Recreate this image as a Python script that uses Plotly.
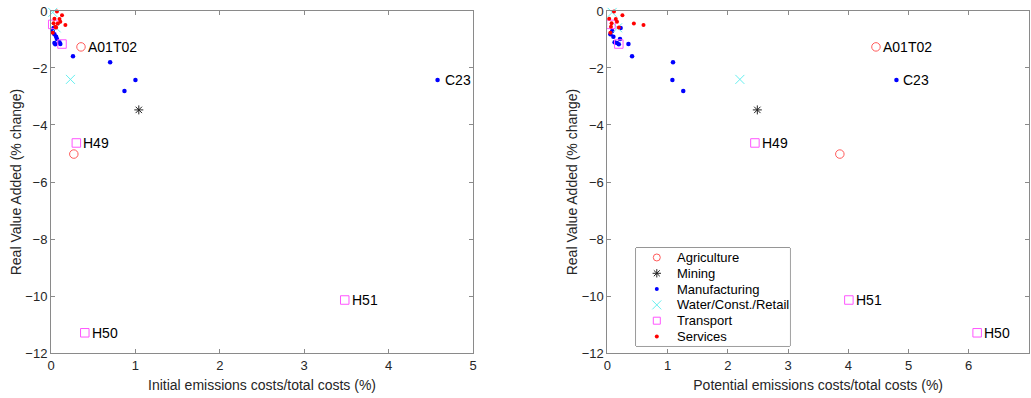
import plotly.graph_objects as go

# ---------------- data (left: initial, right: potential) ----------------
agri_x_init = [0.355, 0.27]
agri_x_pot = [4.46, 3.86]
agri_y = [-1.26, -5.02]

mining_x_init = [1.04]
mining_x_pot = [2.49]
mining_y = [-3.47]

manu_x_init = [4.58, 0.26, 0.70, 1.00, 0.87, 0.11, 0.07, 0.05, 0.04, 0.03, 0.02, 0.04, 0.06, 0.10]
manu_x_pot = [4.80, 0.41, 1.09, 1.08, 1.26, 0.35, 0.21, 0.19, 0.16, 0.22, 0.08, 0.05, 0.10, 0.12]
manu_y = [-2.42, -1.59, -1.80, -2.42, -2.81, -1.16, -0.98, -1.17, -1.12, -0.60, -0.70, -0.82, -0.90, -1.10]

water_x_init = [0.02, 0.06, 0.23]
water_x_pot = [0.08, 0.17, 2.20]
water_y = [-0.05, -0.59, -2.40]

trans_x_init = [3.48, 0.40, 0.30, 0.13, 0.02]
trans_x_pot = [4.01, 6.14, 2.45, 0.19, 0.06]
trans_y = [-10.14, -11.29, -4.63, -1.16, -0.47]

serv_x_init = [0.07, 0.13, 0.10, 0.04, 0.11, 0.17, 0.03, 0.05, 0.02, 0.08, 0.06]
serv_x_pot = [0.11, 0.25, 0.14, 0.03, 0.16, 0.60, 0.07, 0.06, 0.05, 0.44, 0.19]
serv_y = [-0.02, -0.15, -0.28, -0.27, -0.38, -0.49, -0.43, -0.55, -0.76, -0.44, -0.58]

labels_txt = ["A01T02", "C23", "H49", "H50", "H51"]
labels_x_init = [0.355, 4.58, 0.30, 0.40, 3.48]
labels_x_pot = [4.46, 4.80, 2.45, 6.14, 4.01]
labels_y = [-1.26, -2.42, -4.63, -11.29, -10.14]

x_ticks_left = [0, 1, 2, 3, 4, 5]
x_ticks_right = [0, 1, 2, 3, 4, 5, 6, 7]
y_ticks = [0, -2, -4, -6, -8, -10, -12]

FONT = "Liberation Sans, Arial, Helvetica, sans-serif"
AXCOL = "#8a8a8a"
TXTCOL = "#262626"

series = [
    ("Agriculture", agri_x_init, agri_x_pot, agri_y,
     dict(symbol="circle-open", size=8.5, color="#ff5a5a", line=dict(width=1))),
    ("Mining", mining_x_init, mining_x_pot, mining_y,
     dict(symbol="asterisk-open", size=7.5, color="#222222", line=dict(width=1))),
    ("Manufacturing", manu_x_init, manu_x_pot, manu_y,
     dict(symbol="circle", size=4.5, color="#0000ff", line=dict(width=0))),
    ("Water/Const./Retail", water_x_init, water_x_pot, water_y,
     dict(symbol="x-thin-open", size=9, color="#66f0f0", line=dict(width=1))),
    ("Transport", trans_x_init, trans_x_pot, trans_y,
     dict(symbol="square-open", size=8.5, color="#ff55ff", line=dict(width=1))),
    ("Services", serv_x_init, serv_x_pot, serv_y,
     dict(symbol="circle", size=4, color="#ff0000", line=dict(width=0))),
]
legend_sizes = [7, 7, 4, 9, 7, 4]

fig = go.Figure()
for name, xi, xp, y, mk in series:
    fig.add_trace(go.Scatter(x=xi, y=y, mode="markers", marker=mk, name=name,
                             showlegend=False, xaxis="x", yaxis="y", cliponaxis=False))
    fig.add_trace(go.Scatter(x=xp, y=y, mode="markers", marker=mk, name=name,
                             showlegend=False, xaxis="x2", yaxis="y2", cliponaxis=False))

annotations = []
for t, xi, xp, y in zip(labels_txt, labels_x_init, labels_x_pot, labels_y):
    for xr, yr, xv in (("x", "y", xi), ("x2", "y2", xp)):
        annotations.append(dict(x=xv, y=y, xref=xr, yref=yr, text=t, showarrow=False,
                                xanchor="left", yanchor="middle", xshift=5,
                                font=dict(family=FONT, size=14, color="#000000")))

# ---- compact legend box (MATLAB style) drawn on its own hidden axes ----
n_items = len(series)
for i, ((name, _, _, _, mk), ls) in enumerate(zip(series, legend_sizes)):
    lmk = dict(mk)
    lmk["size"] = ls
    fig.add_trace(go.Scatter(x=[0.135], y=[i + 0.5], mode="markers", marker=lmk,
                             name=name, showlegend=False, hoverinfo="skip",
                             xaxis="x3", yaxis="y3"))
    annotations.append(dict(x=0.25, y=i + 0.5, xref="x3", yref="y3", text=name,
                            showarrow=False, xanchor="left", yanchor="middle",
                            font=dict(family=FONT, size=13, color="#000000")))

shapes = [dict(type="rect", xref="x3 domain", yref="y3 domain", x0=0, x1=1, y0=0, y1=1,
               line=dict(color="#333333", width=1), fillcolor="white", layer="below")]

axis_common = dict(showline=True, linecolor=AXCOL, linewidth=1, mirror="ticks",
                   ticks="inside", ticklen=4, tickcolor=AXCOL, showgrid=False,
                   zeroline=False, automargin=False,
                   tickfont=dict(family=FONT, size=13, color=TXTCOL))

hidden = dict(visible=False, showgrid=False, zeroline=False, fixedrange=True, automargin=False)

fig.update_layout(
    width=1031, height=398, autosize=False,
    margin=dict(l=0, r=0, t=0, b=0, pad=0, autoexpand=False),
    paper_bgcolor="white", plot_bgcolor="white",
    font=dict(family=FONT, color=TXTCOL),
    showlegend=False,
    xaxis=dict(domain=[0.0495, 0.4588], range=[0, 5], tickvals=x_ticks_left,
               title=dict(text="Initial emissions costs/total costs (%)",
                          font=dict(family=FONT, size=14, color=TXTCOL), standoff=8),
               anchor="y", **axis_common),
    yaxis=dict(domain=[0.113, 0.9724], range=[-12, 0], tickvals=y_ticks,
               title=dict(text="Real Value Added (% change)",
                          font=dict(family=FONT, size=14, color=TXTCOL), standoff=0),
               anchor="x", **axis_common),
    xaxis2=dict(domain=[0.5891, 0.998], range=[0, 7], tickvals=x_ticks_right,
                title=dict(text="Potential emissions costs/total costs (%)",
                           font=dict(family=FONT, size=14, color=TXTCOL), standoff=8),
                anchor="y2", **axis_common),
    yaxis2=dict(domain=[0.113, 0.9724], range=[-12, 0], tickvals=y_ticks,
                title=dict(text="Real Value Added (% change)",
                           font=dict(family=FONT, size=14, color=TXTCOL), standoff=0),
                anchor="x2", **axis_common),
    xaxis3=dict(domain=[0.6169, 0.7662], range=[0, 1], anchor="y3", **hidden),
    yaxis3=dict(domain=[0.1307, 0.3769], range=[n_items + 0.1, -0.1], anchor="x3", **hidden),
    annotations=annotations,
    shapes=shapes,
)

fig.write_html("out.html")
